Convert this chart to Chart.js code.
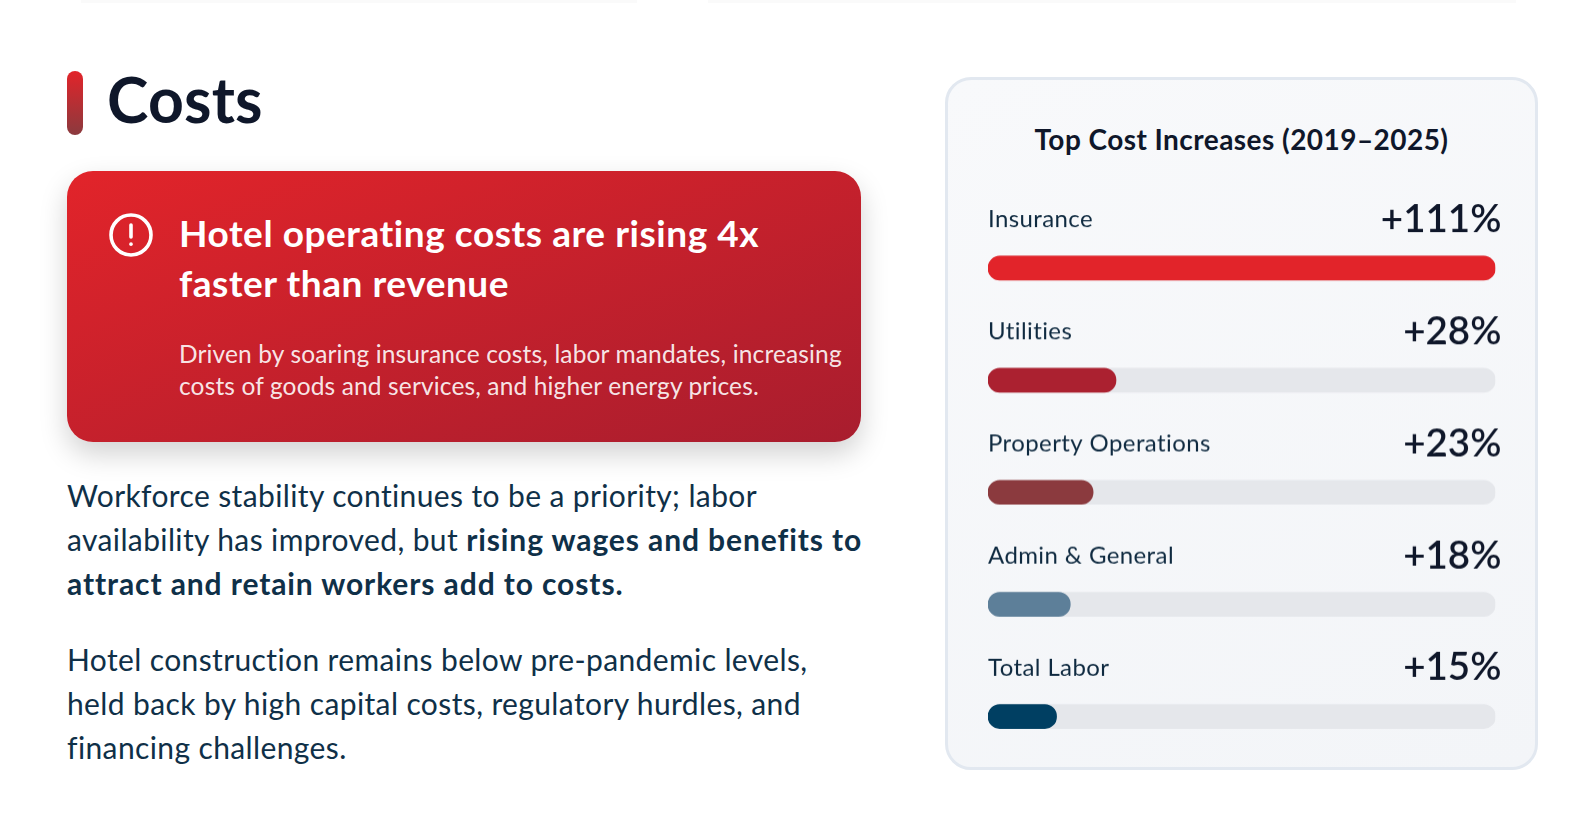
<!DOCTYPE html>
<html>
<head>
<meta charset="utf-8">
<title>Costs</title>
<script src="https://cdn.jsdelivr.net/npm/chart.js@4"></script>
<style>
html, body { margin: 0; padding: 0; background: #fff; width: 1585px; height: 826px; overflow: hidden; font-family: Lato, sans-serif; font-variant-ligatures: none; }
.abs { position: absolute; white-space: nowrap; }
.strip { top: 0; height: 3px; background: #fafafa; }
.accent { left: 67px; top: 71px; width: 16px; height: 64px; border-radius: 8px; background: linear-gradient(180deg, #e2242a, #8b3a3e); }
h1 { left: 107px; top: 59px; margin: 0; font-size: 62.5px; line-height: 80px; font-weight: 700; letter-spacing: .2px; color: #0f172a; }
.alert { left: 67px; top: 171px; width: 793.5px; height: 271px; border-radius: 26px; background: linear-gradient(to bottom right, #e2242a, #a81d2e); box-shadow: 0 12px 28px rgba(0,0,0,.18); }
.alert svg { position: absolute; left: 41.9px; top: 41.5px; }
.alert h2 { position: absolute; left: 112px; top: 37px; margin: 0; font-size: 37px; line-height: 50px; font-weight: 700; letter-spacing: .55px; color: #fff; }
.alert p { position: absolute; left: 112px; top: 166.7px; margin: 0; font-size: 24.5px; line-height: 32.3px; letter-spacing: .14px; color: rgba(255,255,255,.9); }
.body { left: 67px; margin: 0; font-size: 30px; line-height: 44px; letter-spacing: .38px; color: #0f3048; }
.body b { font-weight: 700; letter-spacing: .9px; }
.panel { left: 945px; top: 77px; width: 587px; height: 687px; border: 3px solid #e2e8f0; border-radius: 26px; background: linear-gradient(160deg, #f8f9fb, #f3f5f8); }
.panel h3 { position: absolute; left: 0; right: 0; top: 41px; margin: 0; text-align: center; font-size: 28px; line-height: 36px; font-weight: 700; letter-spacing: .45px; color: #0f172a; }
#holder { left: 987.6px; top: 182px; width: 527.4px; height: 589.5px; }
</style>
</head>
<body>
<div class="abs strip" style="left:81px;width:556px"></div>
<div class="abs strip" style="left:708px;width:808px"></div>
<div class="abs accent"></div>
<h1 class="abs">Costs</h1>
<div class="abs alert">
  <svg width="46" height="46" viewBox="0 0 46 46" fill="none" stroke="#fff" stroke-width="3.6" stroke-linecap="round">
    <circle cx="22" cy="22" r="20"/>
    <line x1="22" y1="12" x2="22" y2="24"/>
    <line x1="22" y1="31" x2="22" y2="31.2"/>
  </svg>
  <h2>Hotel operating costs are rising 4x<br>faster than revenue</h2>
  <p>Driven by soaring insurance costs, labor mandates, increasing<br>costs of goods and services, and higher energy prices.</p>
</div>
<p class="abs body" style="top:473.3px">Workforce stability continues to be a priority; labor<br>availability has improved, but <b>rising wages and benefits to<br>attract and retain workers add to costs.</b></p>
<p class="abs body" style="top:637px">Hotel construction remains below pre-pandemic levels,<br>held back by high capital costs, regulatory hurdles, and<br>financing challenges.</p>
<div class="abs panel"><h3>Top Cost Increases (2019–2025)</h3></div>
<div class="abs" id="holder"><canvas id="costs"></canvas></div>

<script>
const categories = ['Insurance', 'Utilities', 'Property Operations', 'Admin & General', 'Total Labor'];
const increases = [111, 28, 23, 18, 15];
const trackValues = [111, 111, 111, 111, 111];
const barColors = ['#e2242a', '#ab2130', '#8b3a3e', '#5d7f99', '#003f62'];

// labels sit above each bar, name on the left and value on the right
const rowLabels = {
    id: 'rowLabels',
    afterDatasetsDraw(chart) {
        const ctx = chart.ctx;
        const y = chart.scales.y;
        const x = chart.scales.x;
        ctx.save();
        ctx.textBaseline = 'middle';
        categories.forEach((name, i) => {
            const top = y.getPixelForValue(i) - 48.5;
            ctx.textAlign = 'left';
            ctx.font = '400 24px Lato';
            ctx.letterSpacing = '0.4px';
            ctx.fillStyle = '#0f2a40';
            ctx.fillText(name, x.left, top);
            ctx.textAlign = 'right';
            ctx.font = '600 38.5px Lato';
            ctx.letterSpacing = '0px';
            ctx.fillStyle = '#0f172a';
            ctx.fillText('+' + increases[i] + '%', x.right + 6, top);
        });
        ctx.restore();
    }
};

new Chart(document.getElementById('costs').getContext('2d'), {
    type: 'bar',
    data: {
        labels: categories,
        datasets: [{
            label: 'Increase',
            data: increases,
            backgroundColor: barColors,
            borderRadius: 12,
            borderSkipped: false,
            barThickness: 24,
            grouped: false,
            order: 1
        }, {
            label: 'Track',
            data: trackValues,
            backgroundColor: '#e5e7eb',
            borderRadius: 12,
            borderSkipped: false,
            barThickness: 24,
            grouped: false,
            order: 2
        }]
    },
    options: {
        indexAxis: 'y',
        responsive: true,
        maintainAspectRatio: false,
        animation: false,
        layout: { padding: { left: 0, right: 20, top: 30, bottom: 0 } },
        plugins: { legend: { display: false }, tooltip: { enabled: false } },
        scales: {
            x: { display: false, min: 0, max: 111 },
            y: { display: false }
        }
    },
    plugins: [rowLabels]
});
</script>
</body>
</html>
